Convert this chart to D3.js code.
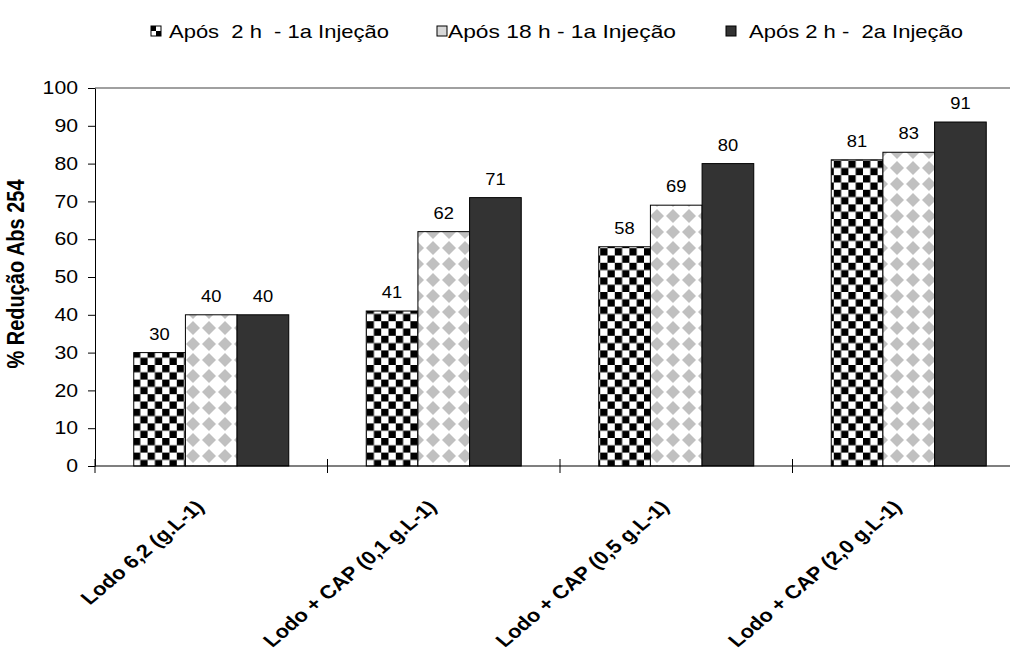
<!DOCTYPE html>
<html><head><meta charset="utf-8">
<script src="https://cdn.jsdelivr.net/npm/d3@7"></script>
<style>body{margin:0;background:#fff}svg{display:block;font-family:"Liberation Sans",Arial,sans-serif}</style>
</head><body>
<svg id="c" width="1010" height="653"></svg>
<script>
const categories = ["Lodo 6,2 (g.L-1)", "Lodo + CAP (0,1 g.L-1)", "Lodo + CAP (0,5 g.L-1)", "Lodo + CAP (2,0 g.L-1)"];
const seriesNames = ["Após  2 h  - 1a Injeção", "Após 18 h - 1a Injeção", "Após 2 h -  2a Injeção"];
const s1 = [30, 41, 58, 81];
const s2 = [40, 62, 69, 83];
const s3 = [40, 71, 80, 91];
const yTicks = [0,10,20,30,40,50,60,70,80,90,100];
const yTitle = "% Redução Abs 254";

const SX = 1.18; // horizontal stretch of the reference's text

const svg = d3.select("#c");
const defs = svg.append("defs");
// checker pattern
const pc = defs.append("pattern").attr("id","checker").attr("patternUnits","userSpaceOnUse")
  .attr("width",14.6).attr("height",14.6).attr("x",133).attr("y",0);
pc.append("rect").attr("width",14.6).attr("height",14.6).attr("fill","#fff");
pc.append("rect").attr("width",7.3).attr("height",7.3).attr("fill","#000");
pc.append("rect").attr("x",7.3).attr("y",7.3).attr("width",7.3).attr("height",7.3).attr("fill","#000");
// diamond pattern
const pd = defs.append("pattern").attr("id","diamond").attr("patternUnits","userSpaceOnUse")
  .attr("width",16).attr("height",16).attr("x",185).attr("y",0);
pd.append("rect").attr("width",16).attr("height",16).attr("fill","#fff");
pd.append("path").attr("d","M8,1 L15,8 L8,15 L1,8 Z").attr("fill","#c0c0c0");

const fills = ["url(#checker)", "url(#diamond)", "#333333"];
const series = [s1, s2, s3];

const mLeft = 95, mRight = 1025, mTop = 88, mBottom = 466;
const x = d3.scaleBand().domain(categories).range([mLeft, mRight]);
const inner = d3.scaleBand().domain([0,1,2]).range([0, x.bandwidth()]).paddingOuter(0.75).paddingInner(0);
const y = d3.scaleLinear().domain([0,100]).range([mBottom, mTop]);

// top border line
svg.append("line").attr("x1",mLeft).attr("x2",1010).attr("y1",y(100)).attr("y2",y(100))
  .attr("stroke","#808080").attr("stroke-width",1.5);

// bars
const g = svg.append("g");
categories.forEach((c,i)=>{
  series.forEach((s,j)=>{
    const bx = x(c)+inner(j);
    g.append("rect").attr("x",bx).attr("y",y(s[i])).attr("width",inner.bandwidth())
      .attr("height",y(0)-y(s[i])).attr("fill",fills[j]).attr("stroke","#000").attr("stroke-width",1);
    g.append("text").attr("transform",`translate(${bx+inner.bandwidth()/2},${y(s[i])-13}) scale(1.08,1)`)
      .attr("text-anchor","middle").attr("font-size",17).attr("fill","#000").text(s[i]);
  });
});

// y axis
const ya = svg.append("g").attr("transform",`translate(${mLeft},0)`)
  .call(d3.axisLeft(y).tickValues(yTicks).tickSize(7).tickSizeOuter(0));
ya.select(".domain").attr("stroke","#000");
ya.selectAll(".tick line").attr("stroke","#000");
ya.selectAll("text").attr("x",0).attr("transform",`translate(-17,0) scale(${SX},1)`)
  .attr("font-size",18).attr("font-family","Liberation Sans, Arial").attr("fill","#000");

// x axis line and ticks
svg.append("line").attr("x1",mLeft).attr("x2",1010).attr("y1",mBottom).attr("y2",mBottom)
  .attr("stroke","#000").attr("stroke-width",1.2);
const bounds = categories.map(c=>x(c));
svg.selectAll(".xt").data(bounds).enter().append("line")
  .attr("x1",d=>d).attr("x2",d=>d).attr("y1",mBottom-7).attr("y2",mBottom+7).attr("stroke","#000");

// x labels
categories.forEach(c=>{
  const cx = x(c)+x.bandwidth()/2;
  svg.append("text").attr("transform",`translate(${cx-6},${mBottom+42}) scale(${SX},1) rotate(-45)`)
    .attr("text-anchor","end").attr("font-size",18.6).attr("font-weight","bold").text(c);
});

// y title
svg.append("text").attr("transform",`translate(24,${(mTop+mBottom)/2-3}) scale(${SX},1) rotate(-90)`)
  .attr("text-anchor","middle").attr("font-size",20).attr("font-weight","bold").text(yTitle);

// legend
const legX = [151, 437, 726], legTX = [169, 448, 749], legW = [220, 228, 214];
seriesNames.forEach((n,j)=>{
  const m = svg.append("g").attr("transform",`translate(${legX[j]},26)`);
  if(j===0){
    m.append("rect").attr("width",10).attr("height",10).attr("fill","#fff").attr("stroke","#000");
    m.append("rect").attr("width",5).attr("height",5).attr("fill","#000");
    m.append("rect").attr("x",5).attr("y",5).attr("width",5).attr("height",5).attr("fill","#000");
  } else if(j===1){
    m.append("rect").attr("width",10).attr("height",10).attr("fill","#d8d8d8").attr("stroke","#000");
  } else {
    m.append("rect").attr("width",10).attr("height",10).attr("fill","#333").attr("stroke","#000");
  }
  svg.append("text").attr("x",legTX[j]).attr("y",38).attr("font-size",19)
    .attr("textLength",legW[j]).attr("lengthAdjust","spacingAndGlyphs")
    .attr("xml:space","preserve").style("white-space","pre").text(n);
});
</script>
</body></html>
